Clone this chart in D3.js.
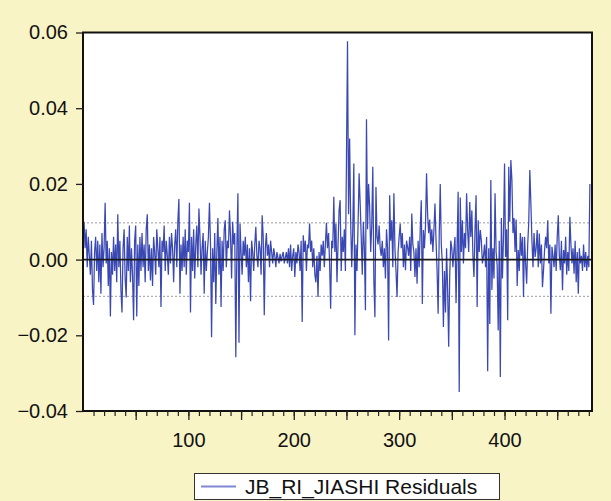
<!DOCTYPE html>
<html>
<head>
<meta charset="utf-8">
<script src="https://cdn.jsdelivr.net/npm/d3@7"></script>
<style>
  html, body { margin: 0; padding: 0; background: #f9f4c6; }
  svg { display: block; }
  text { font-family: "Liberation Sans", Arial, sans-serif; }
</style>
</head>
<body>
<svg id="chart" width="611" height="501"></svg>
<script>
// ---- data -------------------------------------------------------------
const seriesName = "JB_RI_JIASHI Residuals";
const yTicks = [-0.04, -0.02, 0.00, 0.02, 0.04, 0.06];
const yTickLabels = ["\u22120.04", "\u22120.02", "0.00", "0.02", "0.04", "0.06"];
const xLabelTicks = [100, 200, 300, 400];
const xMajorTicks = [50, 100, 150, 200, 250, 300, 350, 400, 450];
const sdBand = [-0.0097, 0.0097];
const residuals = [
  // obs 1-97
  0.010,0.003,0.008,-0.002,0.006,0.001,-0.004,0.005,-0.008,-0.012,
  0.002,0.006,-0.003,0.005,-0.006,0.004,-0.009,0.007,-0.002,0.003,
  0.015,-0.001,0.005,-0.007,0.003,-0.015,0.002,-0.004,0.006,-0.003,
  0.004,-0.006,0.012,-0.002,0.005,-0.008,-0.014,0.003,0.008,-0.005,
  -0.010,0.006,-0.003,0.009,-0.006,0.003,-0.004,-0.016,0.005,0.009,
  -0.015,0.004,-0.007,0.006,-0.003,0.007,-0.002,0.004,-0.006,0.008,
  0.012,-0.003,0.004,-0.0055,0.003,-0.007,0.006,0.002,-0.004,0.008,
  0.003,-0.002,0.006,-0.0125,0.005,0.002,0.009,-0.003,0.005,0.001,
  -0.004,0.006,-0.001,0.007,0.003,-0.006,0.004,0.008,-0.002,0.010,
  0.016,-0.009,0.004,-0.003,0.006,-0.002,0.008,
  // obs 98-194
  -0.004,0.005,0.002,
  0.015,-0.014,0.006,-0.003,0.008,-0.005,0.004,0.009,-0.002,0.0135,
  0.006,-0.004,0.003,0.007,-0.009,0.005,-0.003,0.002,0.006,0.015,
  0.004,-0.0205,0.003,-0.006,0.007,-0.0117,0.002,0.011,-0.004,0.006,
  -0.0125,0.005,-0.003,0.008,0.0104,-0.002,0.005,0.003,0.013,0.006,
  -0.005,0.010,0.004,0.007,-0.0258,0.003,0.0175,-0.022,0.0095,0.002,
  -0.004,0.005,0.001,0.006,-0.002,0.004,-0.006,0.003,-0.011,0.005,
  0.002,-0.003,0.004,0.0087,0.001,-0.002,0.005,0.003,-0.004,0.0117,
  0.006,-0.0147,0.003,0.007,0.001,0.004,-0.002,0.005,0.002,-0.001,
  0.003,0.001,-0.002,0.002,0.0005,-0.001,0.0015,-0.0005,0.001,0.002,
  -0.001,0.0005,0.002,-0.001,
  // obs 195-290
  0.003,-0.002,0.004,-0.003,0.001,0.003,-0.0046,0.002,-0.001,0.004,0.002,-0.003,0.005,
  -0.0165,0.0064,0.002,0.005,-0.003,0.004,0.003,0.0095,0.002,0.005,
  -0.002,0.003,-0.004,-0.006,0.001,-0.0099,0.002,-0.003,0.004,0.001,
  0.005,-0.002,0.004,0.0097,0.003,0.007,-0.001,-0.013,0.005,0.003,
  0.0166,0.002,0.0095,-0.006,0.004,0.013,0.0157,-0.003,0.006,0.002,
  0.008,-0.003,0.0263,0.0577,0.012,0.032,0.010,-0.002,0.008,0.0254,
  -0.020,0.004,-0.003,0.009,0.0228,0.015,0.006,-0.004,0.010,0.003,
  -0.0134,0.0371,0.008,0.020,0.014,0.002,0.009,0.0245,-0.0055,-0.0152,
  0.0192,0.006,0.004,0.009,0.003,0.001,0.005,-0.002,0.003,-0.005,
  0.008,0.003,-0.0214,
  // obs 291-386
  0.017,0.005,0.0104,-0.002,0.0175,0.003,-0.003,-0.0099,0.002,0.006,
  0.0095,0.003,0.007,-0.002,0.004,-0.0028,0.005,0.0033,0.001,0.006,
  -0.003,0.0122,0.004,0.002,-0.0046,0.003,-0.0064,0.005,-0.002,0.008,
  0.0157,-0.0117,0.0078,0.003,0.009,0.0228,0.012,0.007,0.0106,0.004,
  0.008,0.002,0.0078,0.0148,0.005,-0.003,-0.0143,0.006,0.020,0.004,
  -0.001,-0.0178,-0.003,-0.014,0.003,-0.008,-0.023,-0.004,0.005,0.003,
  -0.002,0.0025,0.006,-0.0115,0.004,0.0179,-0.035,0.0164,0.002,0.0104,
  -0.001,0.007,0.003,0.0175,0.0078,0.002,0.0152,0.006,0.013,0.001,
  -0.0046,0.008,0.017,-0.0125,0.0104,0.002,0.0078,0.005,-0.001,0.0009,
  0.004,-0.002,0.006,-0.0295,0.003,-0.017,
  // obs 387-481
  0.021,-0.008,0.003,-0.005,0.0175,0.002,-0.0015,-0.0187,0.005,-0.031,
  0.011,-0.005,0.006,0.0254,0.0007,0.008,-0.016,0.0245,0.010,0.0263,
  0.021,0.007,0.011,0.002,0.0106,-0.007,0.0025,-0.003,0.007,0.001,
  0.006,-0.0099,0.006,-0.001,-0.0064,0.004,0.010,0.0237,0.0148,0.005,
  -0.002,0.007,0.0007,0.003,0.0078,-0.002,0.0069,-0.001,0.004,-0.0073,
  -0.0028,0.0025,0.006,0.003,0.0104,-0.001,0.004,-0.0143,0.0034,0.001,
  -0.002,0.004,-0.003,0.006,0.0117,0.001,-0.0028,0.005,-0.0081,0.0025,
  -0.001,0.006,-0.004,0.002,-0.003,0.0113,0.004,-0.001,0.003,-0.0037,
  0.005,-0.006,0.002,-0.009,0.003,-0.001,0.001,-0.003,0.004,-0.002,
  0.002,-0.003,0.001,-0.002,0.020
];

// ---- layout -----------------------------------------------------------
const svg = d3.select("#chart");
const plot = { left: 83, right: 592, top: 32.5, bottom: 411 };

const x = d3.scaleLinear().domain([0, 483]).range([plot.left, plot.right]);
const y = d3.scaleLinear().domain([-0.04, 0.06]).range([plot.bottom, plot.top]);

svg.append("rect").attr("width", 611).attr("height", 501).attr("fill", "#f9f4c6");

svg.append("rect")
  .attr("x", plot.left).attr("y", plot.top)
  .attr("width", plot.right - plot.left).attr("height", plot.bottom - plot.top)
  .attr("fill", "#ffffff");

svg.append("clipPath").attr("id", "clip")
  .append("rect")
  .attr("x", plot.left).attr("y", plot.top)
  .attr("width", plot.right - plot.left).attr("height", plot.bottom - plot.top);

// std-dev dotted lines
svg.append("g").selectAll("line").data(sdBand).join("line")
  .attr("x1", plot.left).attr("x2", plot.right)
  .attr("y1", d => y(d)).attr("y2", d => y(d))
  .attr("stroke", "#9a9a9a").attr("stroke-width", 1)
  .attr("stroke-dasharray", "2,2");

// residual line
const line = d3.line()
  .x((d, i) => x(i + 1))
  .y(d => y(d));

svg.append("path")
  .datum(residuals)
  .attr("clip-path", "url(#clip)")
  .attr("fill", "none")
  .attr("stroke", "#3a48b3")
  .attr("stroke-width", 1.25)
  .attr("stroke-linejoin", "miter")
  .attr("d", line);

// zero line
svg.append("line")
  .attr("x1", plot.left).attr("x2", plot.right)
  .attr("y1", y(0)).attr("y2", y(0))
  .attr("stroke", "#1a1a1a").attr("stroke-width", 1.6);

// frame
svg.append("rect")
  .attr("x", plot.left).attr("y", plot.top)
  .attr("width", plot.right - plot.left).attr("height", plot.bottom - plot.top)
  .attr("fill", "none").attr("stroke", "#111").attr("stroke-width", 2);

// y axis
const yAxis = d3.axisLeft(y)
  .tickValues(yTicks)
  .tickSize(7)
  .tickPadding(8)
  .tickFormat((d, i) => yTickLabels[i]);
const gy = svg.append("g").attr("transform", `translate(${plot.left},0)`).call(yAxis);
gy.select(".domain").remove();
gy.selectAll("line").attr("stroke", "#222").attr("stroke-width", 1.3);
gy.selectAll("text").attr("font-size", 20).attr("fill", "#111")
  .attr("font-family", "'Liberation Sans', Arial, sans-serif");

// x axis minor ticks
const xMinor = d3.axisBottom(x)
  .tickValues(d3.range(10, 483, 10))
  .tickSize(5)
  .tickFormat("");
const gxm = svg.append("g").attr("transform", `translate(0,${plot.bottom})`).call(xMinor);
gxm.select(".domain").remove();
gxm.selectAll("line").attr("stroke", "#222").attr("stroke-width", 1.2);

// x axis major ticks + labels
const xMajor = d3.axisBottom(x)
  .tickValues(xMajorTicks)
  .tickSize(9)
  .tickPadding(13)
  .tickFormat(d => xLabelTicks.includes(d) ? String(d) : "");
const gx = svg.append("g").attr("transform", `translate(0,${plot.bottom})`).call(xMajor);
gx.select(".domain").remove();
gx.selectAll("line").attr("stroke", "#222").attr("stroke-width", 1.3);
gx.selectAll("text").attr("font-size", 20).attr("fill", "#111")
  .attr("font-family", "'Liberation Sans', Arial, sans-serif");

// legend
const legend = svg.append("g");
legend.append("rect")
  .attr("x", 194.5).attr("y", 473.5).attr("width", 305).attr("height", 26)
  .attr("fill", "#ffffff").attr("stroke", "#333").attr("stroke-width", 1);
legend.append("line")
  .attr("x1", 201).attr("x2", 236).attr("y1", 486.5).attr("y2", 486.5)
  .attr("stroke", "#7f87d4").attr("stroke-width", 2);
legend.append("text")
  .attr("x", 245).attr("y", 494)
  .attr("font-size", 21).attr("fill", "#111")
  .text(seriesName);
</script>
</body>
</html>
